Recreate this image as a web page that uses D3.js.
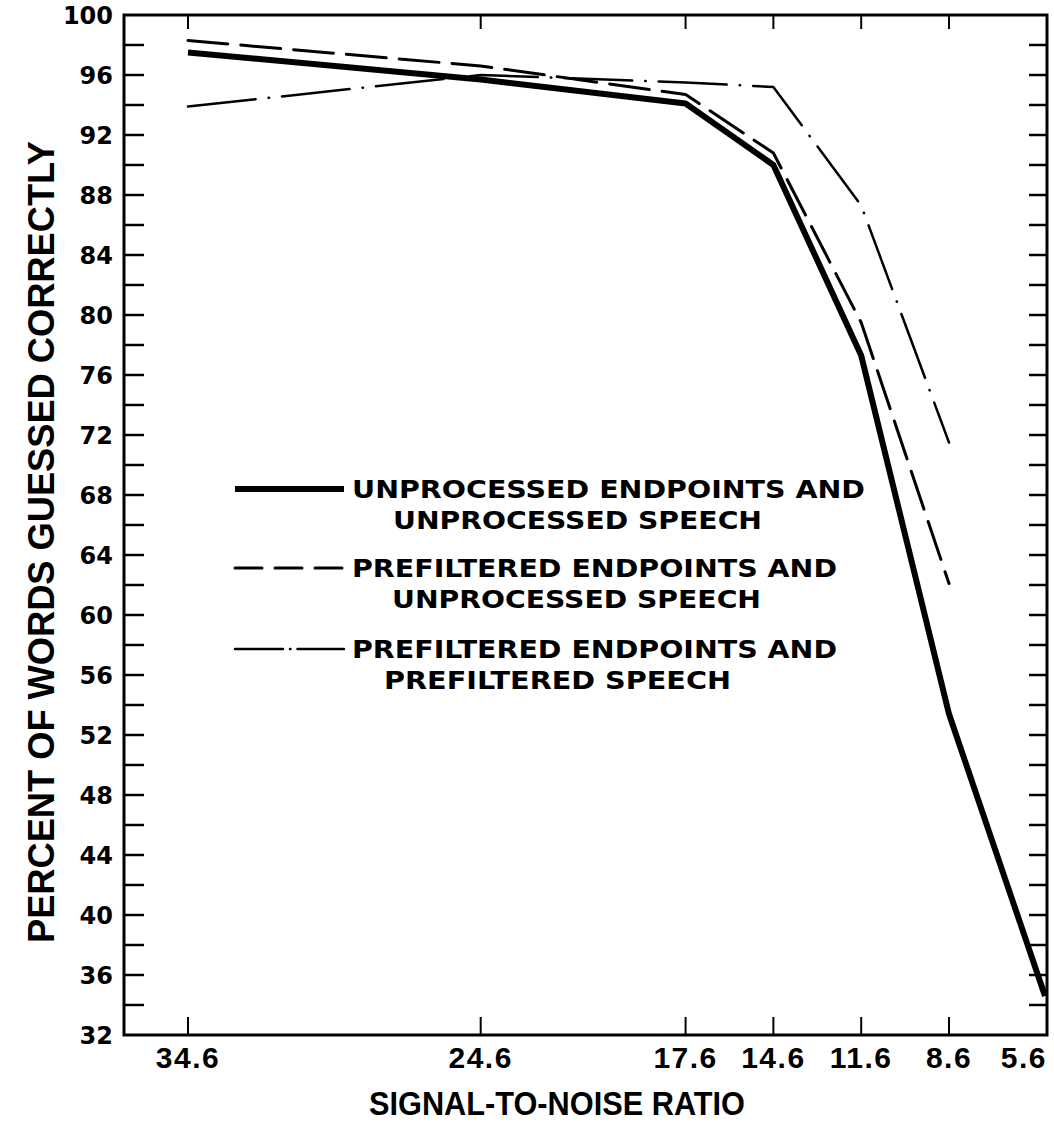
<!DOCTYPE html>
<html>
<head>
<meta charset="utf-8">
<script src="https://cdn.jsdelivr.net/npm/d3@7"></script>
<style>
  body { margin: 0; background: #fff; }
  text { fill: #000; font-weight: bold; }
</style>
</head>
<body>
<svg id="chart"></svg>
<script>
// Data *********************************************************************
const snrTicks = [34.6, 24.6, 17.6, 14.6, 11.6, 8.6, 5.6];   // x tick labels (dB)
const solidVals  = [97.5, 95.7, 94.1, 90.0, 77.3, 53.4, 34.6]; // unprocessed endpoints + unprocessed speech
const dashedVals = [98.3, 96.6, 94.7, 90.8, 79.5, 62.1];       // prefiltered endpoints + unprocessed speech
const dashDotVals = [93.9, 96.0, 95.5, 95.2, 87.3, 71.5];      // prefiltered endpoints + prefiltered speech
const yMajor = d3.range(32, 101, 4);   // labelled y ticks
const yMinor = d3.range(34, 100, 2);   // all inner y ticks

const legendLabels = [
  ["UNPROCESSED ENDPOINTS AND", "UNPROCESSED SPEECH"],
  ["PREFILTERED ENDPOINTS AND", "UNPROCESSED SPEECH"],
  ["PREFILTERED ENDPOINTS AND", "PREFILTERED SPEECH"]
];

const width = 1054, height = 1125;
const frame = { left: 124, right: 1047, top: 15, bottom: 1035 };

const svg = d3.select("#chart").attr("width", width).attr("height", height);

// Scales (x spacing in the original is nearly linear, last point sits on the frame)
const x = d3.scaleLinear().domain([34.6, 8.6, 5.6]).range([188, 949, 1045]);
const y = d3.scaleLinear().domain([32, 100]).range([frame.bottom, frame.top]);

// Frame
svg.append("rect")
    .attr("x", frame.left).attr("y", frame.top)
    .attr("width", frame.right - frame.left).attr("height", frame.bottom - frame.top)
    .attr("fill", "none").attr("stroke", "#000").attr("stroke-width", 3);

// Inward ticks on left and right
svg.selectAll(".ytickL").data(yMinor).enter().append("line")
    .attr("x1", frame.left).attr("x2", frame.left + 20)
    .attr("y1", d => y(d)).attr("y2", d => y(d))
    .attr("stroke", "#000").attr("stroke-width", 2.5);
svg.selectAll(".ytickR").data(yMinor).enter().append("line")
    .attr("x1", frame.right).attr("x2", frame.right - 18)
    .attr("y1", d => y(d)).attr("y2", d => y(d))
    .attr("stroke", "#000").attr("stroke-width", 2.5);

// Top and bottom ticks (none at 5.6, it is on the frame)
const innerX = snrTicks.slice(0, -1);
svg.selectAll(".xtickB").data(innerX).enter().append("line")
    .attr("x1", d => x(d)).attr("x2", d => x(d))
    .attr("y1", frame.bottom).attr("y2", frame.bottom - 18)
    .attr("stroke", "#000").attr("stroke-width", 2);
svg.selectAll(".xtickT").data(innerX).enter().append("line")
    .attr("x1", d => x(d)).attr("x2", d => x(d))
    .attr("y1", frame.top).attr("y2", frame.top + 14)
    .attr("stroke", "#000").attr("stroke-width", 2);

// Y tick labels
svg.selectAll(".ylab").data(yMajor).enter().append("text")
    .attr("x", 113).attr("y", d => y(d)).attr("dy", "0.36em")
    .attr("text-anchor", "end")
    .style("font-family", "'DejaVu Sans', sans-serif").style("font-size", "24px")
    .text(d => d);

// X tick labels
svg.selectAll(".xlab").data(snrTicks).enter().append("text")
    .attr("x", d => d === 5.6 ? frame.right : x(d))
    .attr("y", 1068)
    .attr("text-anchor", d => d === 5.6 ? "end" : "middle")
    .style("font-family", "'Liberation Sans', Arial, sans-serif").style("font-size", "30px")
    .style("letter-spacing", "1.5px")
    .text(d => d.toFixed(1));

// Axis titles
svg.append("text")
    .attr("x", 557).attr("y", 1115).attr("text-anchor", "middle")
    .attr("textLength", 376).attr("lengthAdjust", "spacingAndGlyphs")
    .style("font-family", "'Liberation Sans', Arial, sans-serif").style("font-size", "34px")
    .text("SIGNAL-TO-NOISE RATIO");

svg.append("text")
    .attr("transform", "translate(54,542) rotate(-90)")
    .attr("text-anchor", "middle")
    .attr("textLength", 802).attr("lengthAdjust", "spacingAndGlyphs")
    .style("font-family", "'Liberation Sans', Arial, sans-serif").style("font-size", "36px")
    .text("PERCENT OF WORDS GUESSED CORRECTLY");

// Series lines
const series = [
  { vals: solidVals,   width: 6,   dash: null,           legendDash: null },
  { vals: dashedVals,  width: 3,   dash: "40,13",        legendDash: "27,13" },
  { vals: dashDotVals, width: 2.5, dash: "68,13,0.5,13", legendDash: "48,7,0.5,7" }
];

const line = d3.line()
    .x(d => x(d.s))
    .y(d => y(d.v));

series.forEach(s => {
  const pts = s.vals.map((v, i) => ({ s: snrTicks[i], v: v }));
  svg.append("path")
      .datum(pts)
      .attr("d", line)
      .attr("fill", "none")
      .attr("stroke", "#000")
      .attr("stroke-width", s.width)
      .attr("stroke-linejoin", "round")
      .attr("stroke-linecap", s.dash ? "round" : "butt")
      .attr("stroke-dasharray", s.dash);
});

// Legend
const legendY = [489, 568, 649];      // sample line y for each entry
const legendWidths = [[513, 369], [485, 369], [485, 347]];
const legendIndent = [41, 40, 32];

legendLabels.forEach((lab, i) => {
  const s = series[i];
  svg.append("line")
      .attr("x1", 235).attr("x2", 344)
      .attr("y1", legendY[i]).attr("y2", legendY[i])
      .attr("stroke", "#000").attr("stroke-width", s.width)
      .attr("stroke-linecap", s.dash ? "round" : "butt")
      .attr("stroke-dasharray", s.legendDash);

  svg.append("text")
      .attr("x", 352).attr("y", legendY[i] + 9)
      .attr("textLength", legendWidths[i][0]).attr("lengthAdjust", "spacingAndGlyphs")
      .style("font-family", "'DejaVu Sans', sans-serif").style("font-size", "24px")
      .text(lab[0]);
  svg.append("text")
      .attr("x", 352 + legendIndent[i]).attr("y", legendY[i] + 40)
      .attr("textLength", legendWidths[i][1]).attr("lengthAdjust", "spacingAndGlyphs")
      .style("font-family", "'DejaVu Sans', sans-serif").style("font-size", "24px")
      .text(lab[1]);
});
</script>
</body>
</html>
